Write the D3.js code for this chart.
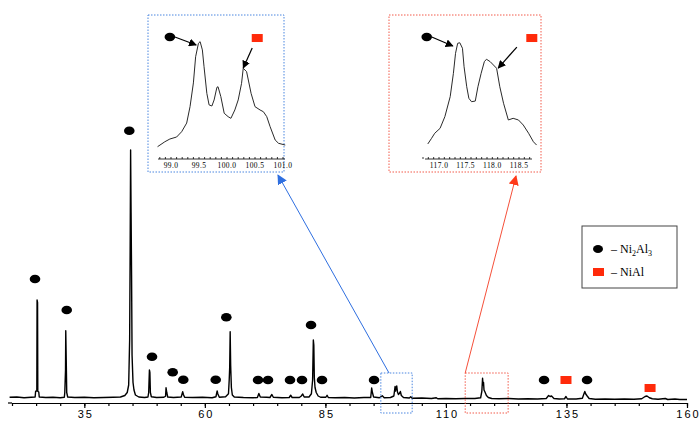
<!DOCTYPE html>
<html lang="en">
<head>
<meta charset="UTF-8">
<title>XRD pattern - Ni2Al3 / NiAl</title>
<script src="https://d3js.org/d3.v7.min.js"></script>
<style>
  body { margin: 0; background: #fff; }
  svg { display: block; }
  .trace { fill: none; stroke: #000; stroke-width: 1.4px; stroke-linejoin: round; }
  .inset-trace { fill: none; stroke: #2a2a2a; stroke-width: 1px; stroke-linejoin: round; }
  .main-axis path, .main-axis line { stroke: #000; stroke-width: 1.2px; }
  .main-axis text { font-family: "Liberation Sans", Arial, sans-serif; font-size: 11px; letter-spacing: 2px; fill: #000; }
  .inset-axis path, .inset-axis line { stroke: #000; stroke-width: 0.8px; }
  .inset-axis text { font-family: "Liberation Serif", serif; font-size: 7.5px; letter-spacing: 0.4px; fill: #000; }
  .legend text { font-family: "Liberation Serif", serif; font-size: 12px; fill: #000; }
</style>
</head>
<body>
<svg id="chart"></svg>
<script>
const width = 700;
const height = 421;

// main pattern: [2theta, intensity] vertices
const pattern = [
  [19.5, 1.1], [21, 1.2], [22.5, 0.9], [24, 1.1], [24.8, 1.2], [24.9, 3.5], [25.15, 3.6], [25.2, 40], [25.3, 39],
  [25.35, 3.5], [25.55, 3.2], [25.65, 1.2], [27, 1.0], [28.5, 1.1], [30, 0.9], [30.85, 1.1], [30.95, 3],
  [31.1, 12], [31.15, 27.7], [31.25, 16], [31.35, 3], [31.55, 1.2], [33, 1.0], [35, 1.1], [37, 0.9], [39, 1.0],
  [41, 1.1], [42.5, 1.2], [43.4, 1.8], [43.9, 3], [44.2, 6], [44.4, 24], [44.5, 58], [44.6, 100], [44.7, 75],
  [44.8, 50], [44.9, 18], [45.1, 7], [45.3, 4], [45.6, 2], [46.3, 1.2], [47.5, 1.0], [48.2, 1.2], [48.35, 3],
  [48.5, 12], [48.6, 11], [48.7, 3], [48.9, 1.3], [50, 1.0], [51.5, 1.1], [51.85, 1.5], [51.95, 4.9], [52.1, 3],
  [52.3, 1.2], [53.5, 1.0], [55.1, 1.2], [55.4, 3.3], [55.55, 2.2], [55.8, 1.1], [57.5, 1.0], [59.5, 1.1],
  [61.5, 0.9], [62.3, 1.3], [62.55, 3.6], [62.7, 2.4], [63, 1.1], [64.3, 1.3], [64.9, 2.5], [65.05, 8],
  [65.15, 13], [65.25, 27.3], [65.35, 14], [65.5, 5], [65.7, 2], [66.1, 1.2], [68, 1.0], [70, 0.9], [70.9, 1.0],
  [71.2, 2.6], [71.5, 1.2], [72.8, 1.1], [73.5, 1.0], [73.9, 2.2], [74.2, 1.1], [76, 0.9], [77.5, 1.0],
  [77.8, 1.9], [78.1, 1.0], [79.6, 1.0], [80.0, 1.6], [80.3, 2.4], [80.6, 1.2], [81.6, 1.2], [82.1, 2.5],
  [82.35, 8], [82.5, 24], [82.6, 22], [82.7, 9], [82.85, 5], [83.1, 3], [83.5, 1.6], [84, 1.1], [85.1, 1.1],
  [85.35, 1.9], [85.6, 1.0], [87, 0.9], [89, 1.0], [91, 0.8], [93, 1.0], [94.4, 1.0], [94.6, 4.8], [94.75, 3],
  [95, 1.2], [96.2, 0.9], [96.8, 1.7], [97.2, 0.9], [98.5, 1.0], [99.2, 1.6], [99.45, 5.4], [99.55, 3.6],
  [99.65, 4.6], [99.8, 5.6], [99.95, 3.2], [100.15, 2.2], [100.4, 2.8], [100.55, 3.4], [100.75, 1.8],
  [101.2, 1.0], [102.4, 0.8], [102.7, 1.3], [103, 0.7], [105, 0.8], [107, 0.6], [108, 0.9], [108.3, 0.5],
  [110, 0.6], [112, 0.5], [114, 0.6], [116, 0.6], [117.2, 0.9], [117.45, 3.5], [117.6, 8.7], [117.7, 6],
  [117.8, 7], [117.9, 4], [118.1, 3.2], [118.4, 1.8], [118.8, 1.0], [119.5, 0.6], [121, 0.5], [123, 0.6],
  [125, 0.4], [127, 0.5], [129, 0.4], [130.8, 0.6], [131.3, 1.8], [131.6, 1.4], [131.9, 1.6], [132.4, 0.6],
  [133.5, 0.4], [134.6, 0.5], [134.9, 1.4], [135.2, 0.4], [137, 0.4], [138.3, 0.7], [138.8, 3.4], [139.0, 2.4],
  [139.3, 1.6], [139.7, 0.6], [141, 0.3], [143, 0.4], [145, 0.3], [147, 0.4], [149, 0.3], [150.6, 0.5],
  [151.3, 1.4], [151.7, 1.6], [152.2, 0.9], [152.8, 0.5], [154, 0.3], [155.5, 0.6], [156, 0.2], [157.5, 0.4],
  [158.5, 0.2], [160, 0.2]
];

// phase markers [2theta, height]
const ni2al3Marks = [
  [24.77, 48.4], [31.35, 36], [44.33, 107.7], [49.04, 17.3], [53.33, 11.1], [55.53, 8.1], [62.25, 8.1],
  [64.45, 33.1], [71.03, 8], [73.1, 8], [77.66, 8], [80.15, 8], [82.02, 30], [84.3, 8], [95.09, 8],
  [130.35, 8], [139.27, 8]
];
const nialMarks = [[134.9, 8], [152.34, 4.8]];

const majorTicks = [35, 60, 85, 110, 135, 160];

// zoomed region around 100 deg
const blueZoom = [
  [98.76, 3], [98.89, 7.5], [98.98, 10], [99.10, 11.8], [99.19, 16.6], [99.28, 24.5], [99.34, 39.4],
  [99.40, 61], [99.44, 84.8], [99.49, 97], [99.52, 98.5], [99.56, 91], [99.59, 75.7], [99.64, 51.5],
  [99.68, 41], [99.73, 40], [99.77, 45.5], [99.82, 57], [99.84, 57.5], [99.89, 48.5], [99.95, 33.4],
  [100.02, 30.3], [100.07, 28.8], [100.14, 36.4], [100.20, 45.5], [100.26, 60.6], [100.29, 74.3],
  [100.35, 71.2], [100.43, 51.5], [100.50, 39.4], [100.59, 36.4], [100.65, 34.8], [100.71, 30.3],
  [100.77, 21.2], [100.86, 9.1], [100.92, 6.1], [101.04, 4.5]
];
const blueTicks = [99.0, 99.5, 100.0, 100.5, 101.0];

// zoomed region around 117.5 deg
const redZoom = [
  [116.79, 5.5], [116.86, 10.6], [116.92, 15.2], [117.02, 19.7], [117.11, 30.3], [117.21, 48.5],
  [117.27, 69.7], [117.31, 87.9], [117.35, 97], [117.39, 97.5], [117.44, 92.5], [117.47, 75.7],
  [117.52, 57.5], [117.56, 47], [117.61, 43.9], [117.68, 44.5], [117.73, 57.5], [117.79, 69.7],
  [117.85, 80.3], [117.89, 82.5], [117.96, 80.3], [118.02, 77.3], [118.08, 74.3], [118.14, 57.5],
  [118.21, 42.5], [118.30, 27.3], [118.39, 28.8], [118.49, 27.3], [118.58, 22.7], [118.68, 15.2],
  [118.77, 7.5], [118.83, 4.5]
];
const redTicks = [117.0, 117.5, 118.0, 118.5];

const svg = d3.select('#chart')
  .attr('width', width)
  .attr('height', height);

const defs = svg.append('defs');
function arrowHead(id, color, size) {
  defs.append('marker')
    .attr('id', id)
    .attr('viewBox', '0 0 10 10')
    .attr('refX', 9).attr('refY', 5)
    .attr('markerUnits', 'userSpaceOnUse')
    .attr('markerWidth', size).attr('markerHeight', size)
    .attr('orient', 'auto')
    .append('path')
    .attr('d', 'M0,0 L10,5 L0,10 Z')
    .attr('fill', color);
}
arrowHead('head-black', '#000', 8);
arrowHead('head-blue', '#2f6fe0', 10);
arrowHead('head-red', '#ff3a1a', 10);

const x = d3.scaleLinear().domain([20, 160]).range([12, 687]);
const y = d3.scaleLinear().domain([0, 100]).range([400, 150]);

// axis: minor ticks every 5, labels every 25
const axisY = 403;
svg.append('g')
  .attr('class', 'main-axis')
  .attr('transform', `translate(0,${axisY})`)
  .call(d3.axisBottom(x).tickValues(d3.range(20, 161, 5)).tickSize(3).tickSizeOuter(0).tickFormat(''));
svg.append('g')
  .attr('class', 'main-axis')
  .attr('transform', `translate(0,${axisY})`)
  .call(d3.axisBottom(x).tickValues(majorTicks).tickSize(5).tickSizeOuter(0).tickPadding(2))
  .call(g => g.select('.domain').remove())
  .selectAll('text').attr('dx', '1px');
svg.append('line')
  .attr('x1', 8).attr('x2', x(20)).attr('y1', axisY).attr('y2', axisY)
  .attr('stroke', '#000').attr('stroke-width', 1.2);

// pattern
svg.append('path')
  .datum(pattern)
  .attr('class', 'trace')
  .attr('d', d3.line().x(d => x(d[0])).y(d => y(d[1])));

// phase marks
svg.selectAll('.mark-c')
  .data(ni2al3Marks)
  .enter().append('ellipse')
  .attr('class', 'mark-c')
  .attr('cx', d => x(d[0])).attr('cy', d => y(d[1]))
  .attr('rx', 5.3).attr('ry', 4.3)
  .attr('fill', '#000');
svg.selectAll('.mark-s')
  .data(nialMarks)
  .enter().append('rect')
  .attr('class', 'mark-s')
  .attr('x', d => x(d[0]) - 5.5).attr('y', d => y(d[1]) - 4)
  .attr('width', 11).attr('height', 8)
  .attr('fill', '#ff2a0a');

// zoom windows on the main pattern and their enlarged views
const insets = [
  {
    data: blueZoom, ticks: blueTicks, color: '#4a86e0', line: '#2f6fe0', head: 'head-blue',
    win: [96.5, 103.0], frame: { x: 148, y: 15, w: 136, h: 157 },
    xr: [171, 283], axis: [158, 285],
    circle: [98.98, 102.7], circleTip: [99.45, 95.5],
    square: [100.54, 101.8], squareFrom: [100.45, 92.7], squareTip: [100.29, 74.5],
    top: [278, 175], bottomAt: 98.2
  },
  {
    data: redZoom, ticks: redTicks, color: '#f25a4a', line: '#f5503a', head: 'head-red',
    win: [114.0, 122.9], frame: { x: 389, y: 15, w: 152, h: 157 },
    xr: [439, 519], axis: [425, 532],
    circle: [116.77, 102.7], circleTip: [117.26, 94.5],
    square: [118.74, 101.8], squareFrom: [118.46, 93.6], squareTip: [118.11, 74.5],
    top: [516, 176], bottomAt: 114.0
  }
];

const iy = d3.scaleLinear().domain([0, 100]).range([150, 40]);

insets.forEach(inset => {
  const ix = d3.scaleLinear().domain([inset.ticks[0], inset.ticks[inset.ticks.length - 1]]).range(inset.xr);

  // small window on the main pattern
  svg.append('rect')
    .attr('x', x(inset.win[0])).attr('y', 373)
    .attr('width', x(inset.win[1]) - x(inset.win[0])).attr('height', 40)
    .attr('fill', 'none').attr('stroke', inset.color)
    .attr('stroke-width', 1).attr('stroke-dasharray', '1.5,1.5');

  // connector
  svg.append('line')
    .attr('x1', x(inset.bottomAt)).attr('y1', 373)
    .attr('x2', inset.top[0]).attr('y2', inset.top[1])
    .attr('stroke', inset.line).attr('stroke-width', 1)
    .attr('marker-end', `url(#${inset.head})`);

  // enlarged frame
  const f = inset.frame;
  svg.append('rect')
    .attr('x', f.x).attr('y', f.y).attr('width', f.w).attr('height', f.h)
    .attr('fill', '#fff').attr('stroke', inset.color)
    .attr('stroke-width', 1).attr('stroke-dasharray', '1.5,1.5');

  // inset axis
  const tickStep = 0.1;
  const minors = d3.range(Math.round(ix.invert(inset.axis[0]) / tickStep) * tickStep, ix.invert(inset.axis[1]), tickStep);
  const ax = svg.append('g').attr('class', 'inset-axis');
  ax.append('line')
    .attr('x1', inset.axis[0]).attr('x2', inset.axis[1]).attr('y1', 159).attr('y2', 159);
  ax.selectAll('.mt')
    .data(minors)
    .enter().append('line')
    .attr('class', 'mt')
    .attr('x1', d => ix(d)).attr('x2', d => ix(d)).attr('y1', 159).attr('y2', 157);
  ax.selectAll('text')
    .data(inset.ticks)
    .enter().append('text')
    .attr('x', d => ix(d)).attr('y', 168)
    .attr('text-anchor', 'middle')
    .text(d => d.toFixed(1));

  svg.append('path')
    .datum(inset.data)
    .attr('class', 'inset-trace')
    .attr('d', d3.line().x(d => ix(d[0])).y(d => iy(d[1])));

  // labelled arrows
  svg.append('line')
    .attr('x1', ix(inset.circle[0]) + 5).attr('y1', iy(inset.circle[1]))
    .attr('x2', ix(inset.circleTip[0])).attr('y2', iy(inset.circleTip[1]))
    .attr('stroke', '#000').attr('stroke-width', 1.2)
    .attr('marker-end', 'url(#head-black)');
  svg.append('ellipse')
    .attr('cx', ix(inset.circle[0])).attr('cy', iy(inset.circle[1]))
    .attr('rx', 5.3).attr('ry', 4.2).attr('fill', '#000');

  svg.append('line')
    .attr('x1', ix(inset.squareFrom[0])).attr('y1', iy(inset.squareFrom[1]))
    .attr('x2', ix(inset.squareTip[0])).attr('y2', iy(inset.squareTip[1]))
    .attr('stroke', '#000').attr('stroke-width', 1.2)
    .attr('marker-end', 'url(#head-black)');
  svg.append('rect')
    .attr('x', ix(inset.square[0]) - 5.5).attr('y', iy(inset.square[1]) - 4)
    .attr('width', 11).attr('height', 8).attr('fill', '#ff2a0a');
});

// legend
const legend = svg.append('g').attr('class', 'legend');
legend.append('rect')
  .attr('x', 582).attr('y', 226).attr('width', 95).attr('height', 62)
  .attr('fill', '#fff').attr('stroke', '#444').attr('stroke-width', 1);
legend.append('ellipse')
  .attr('cx', 598).attr('cy', 249).attr('rx', 5).attr('ry', 4).attr('fill', '#000');
legend.append('rect')
  .attr('x', 593).attr('y', 268).attr('width', 11).attr('height', 8).attr('fill', '#ff2a0a');

const t1 = legend.append('text').attr('x', 611).attr('y', 253);
t1.append('tspan').text('\u2013 Ni');
t1.append('tspan').attr('dy', 3).attr('font-size', '8px').text('2');
t1.append('tspan').attr('dy', -3).text('Al');
t1.append('tspan').attr('dy', 3).attr('font-size', '8px').text('3');

legend.append('text').attr('x', 611).attr('y', 276).text('\u2013 NiAl');
</script>
</body>
</html>
